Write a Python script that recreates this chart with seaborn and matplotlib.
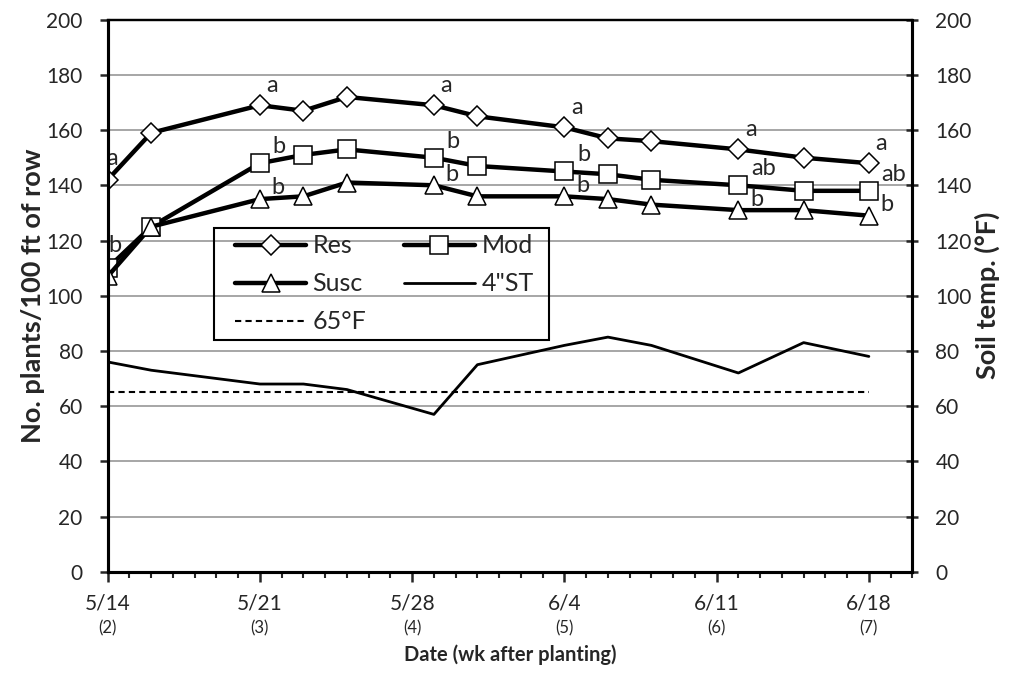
import numpy as np
import pandas as pd
import matplotlib
matplotlib.use("Agg")
import matplotlib.pyplot as plt
import matplotlib.transforms as mtransforms
from matplotlib.patches import Rectangle
import seaborn as sns

# sample dates and stand counts
dates = ["5/14", "5/16", "5/21", "5/23", "5/25", "5/29", "5/31",
         "6/4", "6/6", "6/8", "6/12", "6/15", "6/18"]
res = [142, 159, 169, 167, 172, 169, 165, 161, 157, 156, 153, 150, 148]
mod = [110, 125, 148, 151, 153, 150, 147, 145, 144, 142, 140, 138, 138]
susc = [107, 125, 135, 136, 141, 140, 136, 136, 135, 133, 131, 131, 129]
soil_temp = [76, 73, 68, 68, 66, 57, 75, 82, 85, 82, 72, 83, 78]
threshold = 65

# mean separation letters (index into dates -> letter)
res_letters = {0: "a", 2: "a", 5: "a", 7: "a", 10: "a", 12: "a"}
mod_letters = {0: "b", 2: "b", 5: "b", 7: "b", 10: "ab", 12: "ab"}
susc_letters = {2: "b", 5: "b", 7: "b", 10: "b", 12: "b"}

tick_dates = ["5/14", "5/21", "5/28", "6/4", "6/11", "6/18"]
tick_weeks = ["(2)", "(3)", "(4)", "(5)", "(6)", "(7)"]

"""
convert dates to days after 5/14
"""
def to_days(lst):
    d = pd.to_datetime([s + "/2014" for s in lst], format="%m/%d/%Y")
    return (d - pd.Timestamp("2014-05-14")).days.values

days = to_days(dates)
tick_days = to_days(tick_dates)

sns.set_style("white")
plt.rcParams['font.family'] = ['Lato', 'DejaVu Sans']

fig = plt.figure(figsize=(10.16, 6.79), dpi=100)
ax = fig.add_axes([0.106, 0.158, 0.792, 0.813])
ax2 = ax.twinx()

for y in range(20, 200, 20):
    ax.axhline(y, color="#a6a6a6", lw=1.4, zorder=0)

mk = dict(markerfacecolor="white", markeredgecolor="black", markeredgewidth=1.1)
sns.lineplot(x=days, y=res, ax=ax, color="black", lw=3.2, marker="D", markersize=10,
             label="Res", **mk)
sns.lineplot(x=days, y=mod, ax=ax, color="black", lw=3.2, marker="s", markersize=13,
             label="Mod", **mk)
sns.lineplot(x=days, y=susc, ax=ax, color="black", lw=3.2, marker="^", markersize=13,
             label="Susc", **mk)
sns.lineplot(x=days, y=soil_temp, ax=ax2, color="black", lw=2, label='4"ST',
             legend=False)
ax2.plot([days[0], days[-1]], [threshold, threshold], color="black", lw=1.5,
         ls=(0, (3, 2)), label="65°F")

# letters: offsets in points (regular, first date)
for letters, vals, off, off0 in [(res_letters, res, (9, 14), (3.5, 15)),
                                  (mod_letters, mod, (14, 12), (5, 16)),
                                  (susc_letters, susc, (13, 8), (5, 16))]:
    for i, s in letters.items():
        dx, dy = off0 if i == 0 else off
        if len(s) > 1:
            dx += 4
        ax.annotate(s, (days[i], vals[i]), xytext=(dx, dy),
                    textcoords="offset points", ha="center", va="center",
                    fontsize=17)

ax.set_xlim(0, 37)
ax.set_ylim(0, 200)
ax2.set_ylim(0, 200)
ax.set_yticks(range(0, 201, 20))
ax2.set_yticks(range(0, 201, 20))
ax.set_xticks(tick_days)
ax.set_xticklabels(tick_dates)
ax.set_xticks(np.arange(0, 38), minor=True)

ax.tick_params(axis="y", direction="out", length=6, width=1.8, pad=12, labelsize=15,
               left=True)
ax2.tick_params(axis="y", direction="inout", length=9, width=1.8, pad=12, labelsize=15,
                right=True)
ax.tick_params(axis="x", which="major", direction="out", length=7, width=1.8, pad=9,
               labelsize=15, bottom=True)
ax.tick_params(axis="x", which="minor", direction="out", length=4.5, width=1.5,
               bottom=True)

for a in (ax, ax2):
    for side in ["left", "right", "bottom", "top"]:
        a.spines[side].set_color("black")
    a.spines["left"].set_linewidth(2.2)
    a.spines["right"].set_linewidth(2.2)
    a.spines["bottom"].set_linewidth(2.2)
    a.spines["top"].set_linewidth(1.6)

trans = mtransforms.blended_transform_factory(ax.transData, ax.transAxes)
for d, w in zip(tick_days, tick_weeks):
    ax.text(d, -0.102, w, transform=trans, ha="center", va="center", fontsize=12)

ax.set_xlabel("Date (wk after planting)", fontsize=14.5, fontweight="bold", labelpad=22)
ax.set_ylabel("No. plants/100 ft of row", fontsize=19.5, fontweight="bold", labelpad=1)
ax2.set_ylabel("Soil temp. (°F)", fontsize=19.5, fontweight="bold", labelpad=2)

h1, l1 = ax.get_legend_handles_labels()
h2, l2 = ax2.get_legend_handles_labels()
if ax.get_legend() is not None:
    ax.get_legend().remove()
hd = dict(zip(l1 + l2, h1 + h2))
order = ["Res", "Susc", "65°F", "Mod", '4"ST']
leg = ax2.legend([hd[k] for k in order], order, ncol=2, fontsize=18,
                 loc="upper left", bbox_to_anchor=(0.152, 0.620),
                 frameon=False, handlelength=2.85, handletextpad=0.25,
                 borderaxespad=0, labelspacing=0.6, columnspacing=1.5,
                 borderpad=0.2)
ax2.add_patch(Rectangle((0.132, 0.42), 0.417, 0.203, transform=ax.transAxes,
                        fill=False, edgecolor="black", lw=1.5, zorder=5))

fig.savefig("out.png", dpi=100)
